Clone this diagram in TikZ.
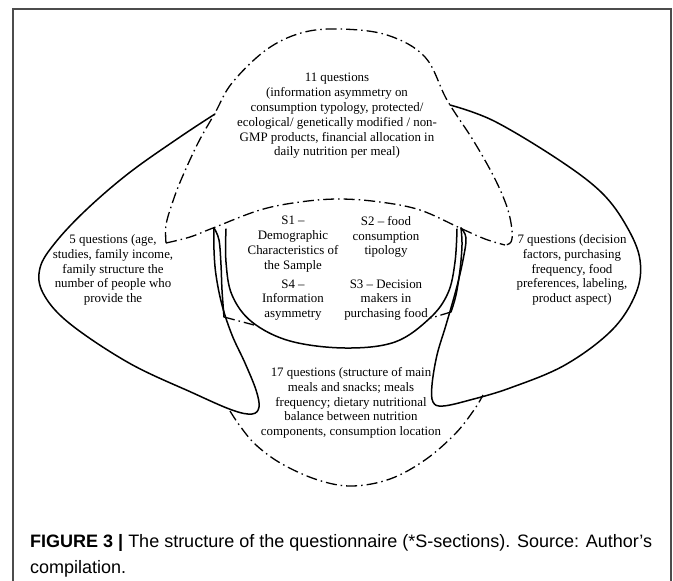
\documentclass[tikz,border=0pt]{standalone}
\usepackage{fontspec}
\setmainfont{Liberation Serif}
\newfontfamily\capfont{Liberation Sans}
\begin{document}
\begin{tikzpicture}[x=1pt,y=-1pt,
  solidline/.style={line width=1.5pt, line join=round, line cap=round},
  dashdotline/.style={line width=1.3pt, dash pattern=on 11pt off 4pt on 1.5pt off 4pt},
  framel/.style={line width=1.5pt, black!70},
  qtext/.style={align=center, font=\fontsize{12.9}{14.8}\selectfont, inner sep=0pt},
  captext/.style={anchor=base west, inner sep=0pt, font=\capfont\fontsize{18}{20}\selectfont}]
\useasboundingbox (0,0) rectangle (673,581);
\fill[white] (0,0) rectangle (673,581);
\draw[framel] (13,581) -- (13,9) -- (671,9) -- (671,581);

% top dome (dash-dot)
\draw[dashdotline] plot[smooth, tension=0.6] coordinates {(166,243) (166,225) (172,204) (181,180) (198,143) (215,113) (232,83) (266,50) (301,33) (339,29) (387,35) (425,57) (447,100) (473,140) (494,177) (507,207) (512,230) (511,242) (505,245)};
\draw[dashdotline] plot[smooth, tension=0.6] coordinates {(166,243) (190,237) (213,228) (260,210) (300,202) (339,199) (380,202) (420,210) (460,228) (485,239) (505,245)};

% left loop (solid)
\draw[solidline] plot[smooth, tension=0.6] coordinates {(215,114) (180,137) (129,173) (86,210) (55,243) (40,268) (43,293) (69,323) (129,363) (193,393) (232,410) (252,414) (259,407) (256,390) (245,363) (232,335) (222,305) (216,275) (214,250) (214,228)};
\draw[solidline] plot[smooth, tension=0.6] coordinates {(214,228) (219,240) (221,265) (222,290) (224,317)};
\draw[dashdotline] (224,317) -- (254,325);

% right loop (solid)
\draw[solidline] plot[smooth, tension=0.6] coordinates {(450,105) (494,121) (559,160) (602,193) (627,227) (640,260) (636,293) (612,330) (565,365) (510,388) (470,400) (443,406) (433,402) (432,385) (437,355) (446,325) (456,290) (463,260) (466,238) (461,228)};
\draw[solidline] plot[smooth, tension=0.6] coordinates {(461,228) (462,245) (460,270) (456,295) (451,312)};
\draw[dashdotline] (451,312) -- (431,318);

% central ellipse (solid, open at the top)
\draw[solidline] plot[smooth, tension=0.6] coordinates {(226,229) (226,262) (232,295) (252,322) (290,341) (345,348) (395,342) (430,318) (448,293) (455,262) (457,229)};

% bottom bowl (dash-dot)
\draw[dashdotline] plot[smooth, tension=0.6] coordinates {(230,411) (240,426) (256,445) (282,464) (318,480) (352,486) (390,479) (425,460) (455,434) (474,410) (483,395)};

% texts
\node[qtext] (q11) at (337,116) {11 questions\\(information asymmetry on\\consumption typology, protected/\\ecological/ genetically modified / non-\\GMP products, financial allocation in\\daily nutrition per meal)};
\node[qtext] (q5) at (113,270) {5 questions (age,\\studies, family income,\\family structure the\\number of people who\\provide the};
\node[qtext] (q7) at (572,270) {7 questions (decision\\factors, purchasing\\frequency, food\\preferences, labeling,\\product aspect)};
\node[qtext] (s1) at (293,244) {S1 --\\Demographic\\Characteristics of\\the Sample};
\node[qtext] (s2) at (386,237) {S2 -- food\\consumption\\tipology};
\node[qtext] (s4) at (293,300) {S4 --\\Information\\asymmetry};
\node[qtext] (s3) at (386,300) {S3 -- Decision\\makers in\\purchasing food};
\node[qtext] (q17) at (351,403) {17 questions (structure of main\\meals and snacks; meals\\frequency; dietary nutritional\\balance between nutrition\\components, consumption location};

\node[captext] (cap1) at (30,547) {\textbf{FIGURE 3 |} The structure of the questionnaire (*S-sections). Source: Author’s};
\node[captext] (cap2) at (30,573) {compilation.};
\end{tikzpicture}
\end{document}
